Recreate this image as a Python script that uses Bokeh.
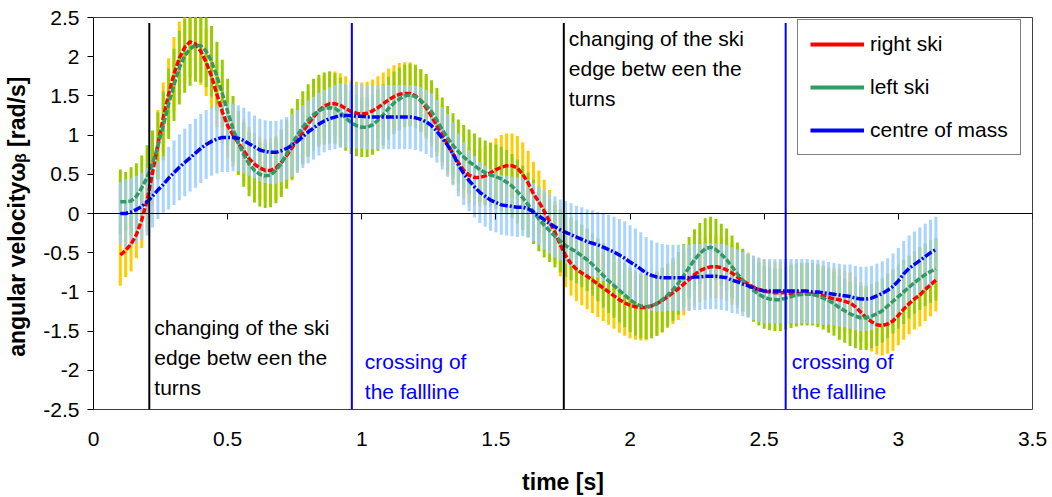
import numpy as np
from bokeh.plotting import figure
from bokeh.models import (ColumnDataSource, FixedTicker, CustomJSTickFormatter, Label,
                          Legend, LegendItem, LinearAxis, Range1d)
from bokeh.embed import file_html
from bokeh.resources import INLINE

FONT = "Liberation Sans"

# sampling grid: 50 Hz, 0.10 s .. 3.14 s
time_s = np.round(np.arange(0.10, 3.1401, 0.02), 2)

# mean angular velocity [rad/s]
right_ski = [
    -0.53, -0.47, -0.39, -0.27, -0.08, 0.17, 0.52, 0.88, 1.22, 1.52,
    1.78, 1.98, 2.12, 2.19, 2.16, 2.07, 1.93, 1.75, 1.52, 1.30,
    1.12, 1.00, 0.90, 0.80, 0.70, 0.63, 0.58, 0.55, 0.55, 0.58,
    0.65, 0.74, 0.84, 0.94, 1.04, 1.14, 1.23, 1.31, 1.37, 1.40,
    1.40, 1.38, 1.34, 1.30, 1.28, 1.27, 1.28, 1.31, 1.35, 1.40,
    1.45, 1.49, 1.52, 1.53, 1.53, 1.50, 1.44, 1.35, 1.24, 1.12,
    1.00, 0.88, 0.76, 0.65, 0.55, 0.49, 0.46, 0.46, 0.48, 0.52,
    0.56, 0.59, 0.61, 0.61, 0.58, 0.50, 0.39, 0.25, 0.15, 0.03,
    -0.10, -0.24, -0.40, -0.54, -0.64, -0.71, -0.76, -0.80, -0.85, -0.90,
    -0.95, -1.00, -1.05, -1.10, -1.14, -1.17, -1.19, -1.20, -1.20, -1.18,
    -1.15, -1.11, -1.06, -1.01, -0.96, -0.90, -0.84, -0.78, -0.73, -0.70,
    -0.68, -0.68, -0.69, -0.72, -0.76, -0.81, -0.86, -0.90, -0.94, -0.97,
    -0.99, -1.00, -1.01, -1.01, -1.01, -1.02, -1.02, -1.02, -1.02, -1.03,
    -1.04, -1.05, -1.07, -1.09, -1.10, -1.12, -1.14, -1.19, -1.26, -1.33,
    -1.38, -1.42, -1.43, -1.41, -1.37, -1.30, -1.22, -1.15, -1.09, -1.04,
    -0.97, -0.91, -0.85,
]
left_ski = [
    0.15, 0.15, 0.16, 0.22, 0.33, 0.46, 0.64, 0.86, 1.12, 1.40,
    1.64, 1.86, 2.01, 2.10, 2.15, 2.14, 2.07, 1.94, 1.75, 1.53,
    1.30, 1.08, 0.90, 0.75, 0.63, 0.55, 0.50, 0.48, 0.49, 0.55,
    0.64, 0.76, 0.89, 1.00, 1.10, 1.19, 1.26, 1.31, 1.34, 1.35,
    1.34, 1.29, 1.22, 1.16, 1.12, 1.10, 1.10, 1.13, 1.19, 1.26,
    1.34, 1.41, 1.46, 1.50, 1.51, 1.49, 1.44, 1.38, 1.30, 1.19,
    1.07, 0.96, 0.87, 0.79, 0.72, 0.66, 0.61, 0.56, 0.52, 0.49,
    0.47, 0.44, 0.40, 0.35, 0.28, 0.20, 0.11, 0.02, -0.07, -0.15,
    -0.22, -0.29, -0.35, -0.41, -0.45, -0.49, -0.54, -0.59, -0.65, -0.72,
    -0.79, -0.86, -0.92, -0.98, -1.04, -1.10, -1.15, -1.18, -1.19, -1.18,
    -1.15, -1.10, -1.04, -0.97, -0.89, -0.79, -0.69, -0.59, -0.51, -0.45,
    -0.43, -0.46, -0.52, -0.59, -0.68, -0.77, -0.85, -0.92, -0.98, -1.03,
    -1.07, -1.09, -1.10, -1.10, -1.08, -1.06, -1.04, -1.03, -1.03, -1.03,
    -1.05, -1.08, -1.11, -1.15, -1.20, -1.24, -1.28, -1.31, -1.33, -1.33,
    -1.31, -1.28, -1.24, -1.18, -1.12, -1.06, -1.00, -0.94, -0.88, -0.83,
    -0.78, -0.74, -0.71,
]
centre_of_mass = [
    0.00, 0.00, 0.02, 0.05, 0.09, 0.15, 0.22, 0.30, 0.37, 0.45,
    0.52, 0.59, 0.65, 0.71, 0.77, 0.83, 0.88, 0.92, 0.95, 0.97,
    0.97, 0.97, 0.96, 0.93, 0.89, 0.85, 0.81, 0.79, 0.78, 0.78,
    0.80, 0.83, 0.87, 0.92, 0.98, 1.04, 1.09, 1.14, 1.18, 1.21,
    1.23, 1.25, 1.25, 1.25, 1.24, 1.24, 1.23, 1.23, 1.23, 1.23,
    1.23, 1.23, 1.23, 1.23, 1.23, 1.22, 1.20, 1.17, 1.12, 1.05,
    0.96, 0.87, 0.76, 0.62, 0.51, 0.42, 0.34, 0.27, 0.22, 0.17,
    0.14, 0.11, 0.10, 0.09, 0.08, 0.08, 0.06, 0.02, -0.03, -0.08,
    -0.13, -0.17, -0.21, -0.24, -0.27, -0.30, -0.33, -0.36, -0.38, -0.40,
    -0.43, -0.46, -0.49, -0.53, -0.57, -0.62, -0.66, -0.71, -0.76, -0.79,
    -0.81, -0.82, -0.82, -0.82, -0.82, -0.82, -0.82, -0.81, -0.81, -0.80,
    -0.80, -0.80, -0.81, -0.82, -0.85, -0.87, -0.90, -0.92, -0.95, -0.97,
    -0.99, -0.99, -0.99, -0.99, -0.99, -0.99, -0.99, -0.99, -0.99, -1.00,
    -1.00, -1.01, -1.02, -1.03, -1.04, -1.05, -1.06, -1.08, -1.09, -1.09,
    -1.08, -1.05, -1.02, -0.98, -0.93, -0.86, -0.77, -0.70, -0.65, -0.60,
    -0.55, -0.50, -0.46,
]

# standard deviation (half length of each error bar) [rad/s]
right_ski_sd = [
    0.39, 0.34, 0.35, 0.30, 0.36, 0.40, 0.42, 0.44, 0.45, 0.46,
    0.47, 0.47, 0.46, 0.45, 0.44, 0.43, 0.43, 0.42, 0.42, 0.41,
    0.41, 0.40, 0.40, 0.40, 0.40, 0.40, 0.40, 0.40, 0.41, 0.41,
    0.41, 0.42, 0.42, 0.42, 0.42, 0.42, 0.42, 0.42, 0.41, 0.41,
    0.41, 0.41, 0.41, 0.40, 0.40, 0.40, 0.40, 0.40, 0.40, 0.40,
    0.40, 0.40, 0.40, 0.40, 0.40, 0.40, 0.40, 0.40, 0.39, 0.39,
    0.39, 0.38, 0.38, 0.37, 0.36, 0.36, 0.36, 0.37, 0.38, 0.39,
    0.40, 0.41, 0.41, 0.41, 0.41, 0.41, 0.41, 0.41, 0.40, 0.40,
    0.40, 0.40, 0.40, 0.40, 0.41, 0.41, 0.41, 0.42, 0.42, 0.42,
    0.42, 0.42, 0.42, 0.42, 0.42, 0.42, 0.42, 0.42, 0.42, 0.41,
    0.41, 0.41, 0.40, 0.40, 0.40, 0.40, 0.40, 0.40, 0.40, 0.40,
    0.40, 0.40, 0.40, 0.40, 0.40, 0.40, 0.40, 0.40, 0.40, 0.40,
    0.40, 0.39, 0.39, 0.39, 0.39, 0.39, 0.39, 0.39, 0.39, 0.39,
    0.39, 0.39, 0.39, 0.39, 0.39, 0.39, 0.39, 0.38, 0.38, 0.38,
    0.38, 0.38, 0.38, 0.38, 0.38, 0.38, 0.39, 0.39, 0.39, 0.40,
    0.40, 0.40, 0.40,
]
left_ski_sd = [
    0.41, 0.38, 0.43, 0.42, 0.41, 0.41, 0.42, 0.43, 0.44, 0.45,
    0.46, 0.47, 0.47, 0.47, 0.47, 0.47, 0.46, 0.45, 0.44, 0.43,
    0.42, 0.42, 0.41, 0.41, 0.41, 0.41, 0.41, 0.41, 0.41, 0.42,
    0.43, 0.44, 0.45, 0.46, 0.46, 0.46, 0.46, 0.46, 0.46, 0.46,
    0.45, 0.44, 0.42, 0.40, 0.39, 0.38, 0.38, 0.38, 0.39, 0.39,
    0.40, 0.40, 0.40, 0.40, 0.40, 0.40, 0.40, 0.40, 0.40, 0.41,
    0.41, 0.41, 0.41, 0.41, 0.41, 0.41, 0.41, 0.41, 0.41, 0.41,
    0.41, 0.41, 0.41, 0.41, 0.41, 0.41, 0.41, 0.41, 0.41, 0.41,
    0.40, 0.40, 0.40, 0.40, 0.40, 0.40, 0.40, 0.40, 0.40, 0.40,
    0.41, 0.41, 0.41, 0.41, 0.41, 0.41, 0.41, 0.41, 0.41, 0.41,
    0.41, 0.41, 0.40, 0.40, 0.40, 0.40, 0.39, 0.39, 0.39, 0.39,
    0.39, 0.39, 0.39, 0.40, 0.40, 0.40, 0.40, 0.40, 0.40, 0.40,
    0.40, 0.40, 0.40, 0.40, 0.40, 0.40, 0.40, 0.40, 0.40, 0.40,
    0.40, 0.40, 0.41, 0.41, 0.41, 0.41, 0.41, 0.41, 0.41, 0.41,
    0.41, 0.41, 0.41, 0.41, 0.41, 0.41, 0.41, 0.40, 0.40, 0.40,
    0.40, 0.40, 0.40,
]
centre_of_mass_sd = [
    0.40, 0.44, 0.43, 0.43, 0.43, 0.43, 0.40, 0.37, 0.36, 0.40,
    0.41, 0.42, 0.43, 0.43, 0.44, 0.44, 0.44, 0.44, 0.44, 0.44,
    0.44, 0.43, 0.42, 0.42, 0.41, 0.40, 0.40, 0.40, 0.40, 0.40,
    0.40, 0.40, 0.40, 0.40, 0.40, 0.40, 0.40, 0.40, 0.40, 0.40,
    0.41, 0.41, 0.41, 0.41, 0.41, 0.41, 0.41, 0.41, 0.41, 0.41,
    0.41, 0.41, 0.41, 0.41, 0.41, 0.41, 0.41, 0.41, 0.41, 0.40,
    0.40, 0.40, 0.40, 0.40, 0.40, 0.39, 0.39, 0.39, 0.39, 0.39,
    0.38, 0.38, 0.38, 0.38, 0.38, 0.37, 0.37, 0.37, 0.37, 0.38,
    0.38, 0.39, 0.39, 0.40, 0.40, 0.40, 0.41, 0.41, 0.42, 0.42,
    0.43, 0.44, 0.45, 0.46, 0.47, 0.47, 0.47, 0.47, 0.46, 0.45,
    0.44, 0.43, 0.42, 0.42, 0.42, 0.42, 0.42, 0.42, 0.42, 0.42,
    0.42, 0.42, 0.42, 0.42, 0.42, 0.41, 0.41, 0.41, 0.41, 0.41,
    0.41, 0.41, 0.41, 0.41, 0.41, 0.41, 0.41, 0.41, 0.41, 0.41,
    0.41, 0.41, 0.40, 0.40, 0.40, 0.40, 0.41, 0.41, 0.41, 0.41,
    0.41, 0.41, 0.41, 0.41, 0.42, 0.42, 0.42, 0.42, 0.42, 0.42,
    0.42, 0.42, 0.42,
]

series_names = ["right ski", "left ski", "centre of mass"]
x_ticks = [0, 0.5, 1, 1.5, 2, 2.5, 3, 3.5]
y_ticks = [-2.5, -2, -1.5, -1, -0.5, 0, 0.5, 1, 1.5, 2, 2.5]

# events within the two turns [s]
edge_change_times = [0.208, 1.753]
fallline_times = [0.963, 2.58]

for arr in (right_ski, left_ski, centre_of_mass, right_ski_sd, left_ski_sd, centre_of_mass_sd):
    assert len(arr) == len(time_s)


def make_source(mean, sd):
    mean = np.asarray(mean)
    sd = np.asarray(sd)
    return ColumnDataSource(dict(t=time_s, v=mean, lo=mean - sd, hi=mean + sd))


src_right = make_source(right_ski, right_ski_sd)
src_left = make_source(left_ski, left_ski_sd)
src_com = make_source(centre_of_mass, centre_of_mass_sd)

p = figure(width=1052, height=497, x_range=Range1d(0, 3.5), y_range=Range1d(-2.5, 2.5),
           output_backend="svg", toolbar_location=None,
           min_border_left=93, min_border_right=20, min_border_top=17, min_border_bottom=88)
p.grid.visible = False
p.background_fill_color = "white"
p.border_fill_color = "white"
p.outline_line_color = "#404040"
p.outline_line_width = 1

tick_fmt = CustomJSTickFormatter(code="return String(tick);")

xa = p.xaxis[0]
xa.ticker = FixedTicker(ticks=x_ticks)
xa.formatter = tick_fmt
xa.axis_line_color = None
xa.major_tick_out = 0
xa.major_tick_in = 0
xa.minor_tick_out = 0
xa.minor_tick_in = 0
xa.major_label_standoff = 22
xa.major_label_text_font = FONT
xa.major_label_text_font_size = "21px"
xa.major_label_text_color = "black"
xa.axis_label = "time [s]"
xa.axis_label_text_font = FONT
xa.axis_label_text_font_size = "23px"
xa.axis_label_text_font_style = "bold"
xa.axis_label_text_color = "black"
xa.axis_label_standoff = 20

ya = p.yaxis[0]
ya.ticker = FixedTicker(ticks=y_ticks)
ya.formatter = tick_fmt
ya.axis_line_color = "black"
ya.major_tick_out = 6
ya.major_tick_in = 0
ya.minor_tick_out = 0
ya.minor_tick_in = 0
ya.major_tick_line_color = "black"
ya.major_label_standoff = 8
ya.major_label_text_font = FONT
ya.major_label_text_font_size = "21px"
ya.major_label_text_color = "black"
ya.axis_label = "angular velocityωᵦ  [rad/s]"
ya.axis_label_text_font = FONT
ya.axis_label_text_font_size = "23px"
ya.axis_label_text_font_style = "bold"
ya.axis_label_text_color = "black"
ya.axis_label_standoff = 10

# horizontal zero axis with downward ticks (no labels)
zero_axis = LinearAxis(fixed_location=0, ticker=FixedTicker(ticks=x_ticks),
                       formatter=CustomJSTickFormatter(code="return '';"),
                       major_label_standoff=0,
                       major_tick_out=6, major_tick_in=0, minor_tick_out=0, minor_tick_in=0,
                       axis_line_color="black", major_tick_line_color="black")
p.add_layout(zero_axis, "below")

# error bars
bar_kw = dict(x0="t", y0="lo", x1="t", y1="hi", line_width=3, line_cap="butt")
p.segment(source=src_right, line_color="#FFCC00", **bar_kw)
p.segment(source=src_left, line_color="#99CC00", **bar_kw)
p.segment(source=src_com, line_color="#99CCFF", line_alpha=0.85, **bar_kw)

# mean curves
p.line("t", "v", source=src_right, line_color="#FF0000", line_width=3.5, line_dash="6 2")
p.line("t", "v", source=src_left, line_color="#339966", line_width=3.5, line_dash="6 2")
p.line("t", "v", source=src_com, line_color="#0000FF", line_width=3.5, line_dash="8 2 2 2")

# event markers
p.segment(x0=edge_change_times, y0=-2.5, x1=edge_change_times, y1=2.43,
          line_color="black", line_width=2)
p.segment(x0=fallline_times, y0=-2.5, x1=fallline_times, y1=2.43,
          line_color="#0000FF", line_width=2)

text_kw = dict(text_font=FONT, text_font_size="21px", text_baseline="middle", text_align="left")
edge_lines = ["changing of the ski", "edge betw een the", "turns"]
fall_lines = ["crossing of", "the fallline"]
for t0, rows in zip(edge_change_times, ([-1.46, -1.84, -2.22], [2.236, 1.853, 1.47])):
    for txt, yv in zip(edge_lines, rows):
        p.add_layout(Label(x=t0, y=yv, x_offset=5, text=txt, text_color="black", **text_kw))
for t0, xo in zip(fallline_times, (13, 6)):
    for txt, yv in zip(fall_lines, [-1.893, -2.276]):
        p.add_layout(Label(x=t0, y=yv, x_offset=xo, text=txt, text_color="#0000FF", **text_kw))

# legend keys: solid lines, built from one-sample sources so nothing is drawn in the plot area
def key_source(mean):
    return ColumnDataSource(dict(t=time_s[:1], v=np.asarray(mean)[:1]))


leg_r = p.line("t", "v", source=key_source(right_ski), line_color="#FF0000", line_width=4)
leg_l = p.line("t", "v", source=key_source(left_ski), line_color="#339966", line_width=4)
leg_c = p.line("t", "v", source=key_source(centre_of_mass), line_color="#0000FF", line_width=4)
legend = Legend(items=[LegendItem(label=n, renderers=[r])
                       for n, r in zip(series_names, (leg_r, leg_l, leg_c))],
                location=(704, 254), orientation="vertical",
                border_line_color="black", border_line_width=1,
                background_fill_color="white", background_fill_alpha=1.0,
                padding=12, spacing=19, margin=0,
                glyph_width=54, glyph_height=20, label_height=20, label_standoff=6,
                label_text_font=FONT, label_text_font_size="21px", label_text_color="black")
p.add_layout(legend, "center")

open("out.html", "w").write(file_html(p, INLINE))
